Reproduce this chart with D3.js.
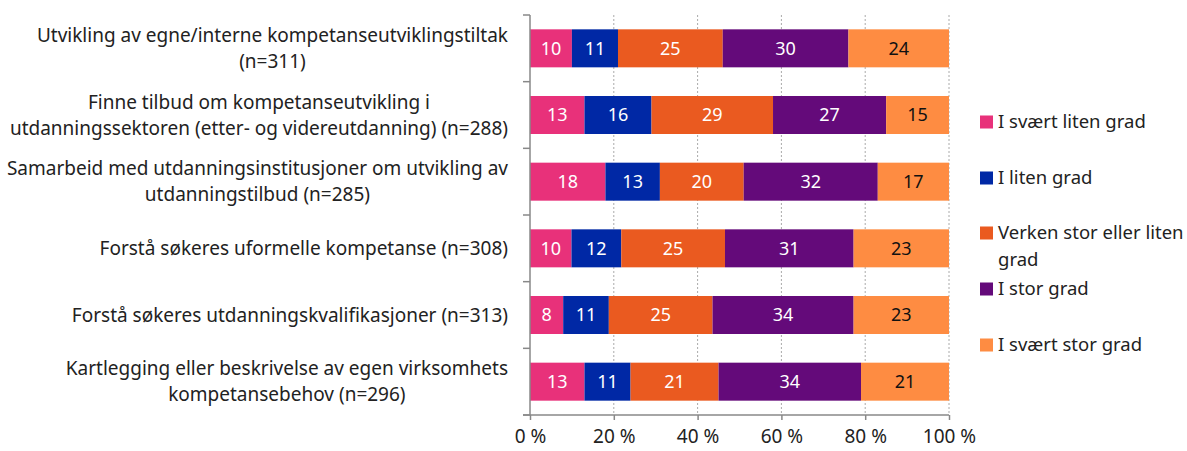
<!DOCTYPE html>
<html>
<head>
<meta charset="utf-8">
<script src="https://cdn.jsdelivr.net/npm/d3@7"></script>
<style>
  body { margin: 0; background: #fff; }
  svg { font-family: "Noto Sans", sans-serif; }
</style>
</head>
<body>
<div id="chart"></div>
<script>
// Categories (line breaks marked with |)
const categories = [
    'Utvikling av egne/interne kompetanseutviklingstiltak|(n=311)',
    'Finne tilbud om kompetanseutvikling i|utdanningssektoren (etter- og videreutdanning) (n=288)',
    'Samarbeid med utdanningsinstitusjoner om utvikling av|utdanningstilbud (n=285)',
    'Forstå søkeres uformelle kompetanse (n=308)',
    'Forstå søkeres utdanningskvalifikasjoner (n=313)',
    'Kartlegging eller beskrivelse av egen virksomhets|kompetansebehov (n=296)'
];

const seriesNames = ['I svært liten grad', 'I liten grad', 'Verken stor eller liten grad', 'I stor grad', 'I svært stor grad'];

// Values per category, one array per series
const svaertLiten = [10, 13, 18, 10, 8, 13];
const liten = [11, 16, 13, 12, 11, 11];
const verken = [25, 29, 20, 25, 25, 21];
const stor = [30, 27, 32, 31, 34, 34];
const svaertStor = [24, 15, 17, 23, 23, 21];

const tickLabels = ['0 %', '20 %', '40 %', '60 %', '80 %', '100 %'];

const colors = ['#e8317a', '#0028a5', '#ea5a20', '#640a7a', '#fe8c42'];
const labelColors = ['#fff', '#fff', '#fff', '#fff', '#111'];

const W = 1187, H = 451;
const margin = { top: 15, left: 530 };
const width = 419, height = 400;
const fontSize = 19;

const svg = d3.select('#chart').append('svg')
    .attr('width', W).attr('height', H);

const g = svg.append('g').attr('transform', `translate(${margin.left},${margin.top})`);

const x = d3.scaleLinear().domain([0, 1]).range([0, width]);
const y = d3.scaleBand().domain(d3.range(categories.length)).range([0, height]).paddingInner(0.43).paddingOuter(0.215);
const yTick = d3.scaleBand().domain(d3.range(categories.length)).range([0, height]);

// Gridlines
g.selectAll('.grid').data([0.2, 0.4, 0.6, 0.8, 1]).enter().append('line')
    .attr('x1', d => x(d)).attr('x2', d => x(d))
    .attr('y1', 0).attr('y2', height)
    .attr('stroke', '#aaa').attr('stroke-width', 1).attr('stroke-dasharray', '2,2');

// Build rows (100 % stacked, normalised per category)
const series = [svaertLiten, liten, verken, stor, svaertStor];
const rows = categories.map((c, i) => {
    const vals = series.map(s => s[i]);
    const total = d3.sum(vals);
    let acc = 0;
    return vals.map((v, k) => {
        const seg = { i, k, v, x0: acc / total, x1: (acc + v) / total };
        acc += v;
        return seg;
    });
});

const segs = rows.flat();

g.selectAll('.bar').data(segs).enter().append('rect')
    .attr('x', d => x(d.x0))
    .attr('width', d => x(d.x1) - x(d.x0))
    .attr('y', d => y(d.i))
    .attr('height', y.bandwidth())
    .attr('fill', d => colors[d.k]);

g.selectAll('.val').data(segs).enter().append('text')
    .attr('x', d => x((d.x0 + d.x1) / 2))
    .attr('y', d => y(d.i) + y.bandwidth() / 2)
    .attr('dy', '0.35em')
    .attr('text-anchor', 'middle')
    .attr('font-size', 18)
    .attr('fill', d => labelColors[d.k])
    .text(d => d.v);

// Axes
const axisColor = '#888';
const yAxis = g.append('g');
yAxis.append('line').attr('x1', 0).attr('x2', 0).attr('y1', 0).attr('y2', height)
    .attr('stroke', axisColor).attr('stroke-width', 1.5);
yAxis.selectAll('.yt').data(d3.range(categories.length + 1)).enter().append('line')
    .attr('x1', -7).attr('x2', 0)
    .attr('y1', d => d * yTick.step()).attr('y2', d => d * yTick.step())
    .attr('stroke', axisColor).attr('stroke-width', 1.5);

const xAxis = g.append('g').attr('transform', `translate(0,${height})`)
    .call(d3.axisBottom(x).tickValues([0, 0.2, 0.4, 0.6, 0.8, 1]).tickSize(5).tickFormat((d, i) => tickLabels[i]));
xAxis.select('.domain').attr('stroke', axisColor).attr('stroke-width', 1.5).attr('d', `M-7,0H${width}`);
xAxis.selectAll('.tick line').attr('stroke', axisColor).attr('stroke-width', 1.5);
xAxis.selectAll('.tick text').attr('font-size', fontSize).attr('fill', '#222').attr('dy', '1.05em')
    .attr('font-family', '"Noto Sans", sans-serif');

// Category labels: block right-aligned at the axis, lines centred within block
const lineH = 26;
const labelRight = 508;
categories.forEach((c, i) => {
    const lines = c.split('|');
    const cy = margin.top + yTick(i) + yTick.bandwidth() / 2;
    const t = svg.append('text')
        .attr('text-anchor', 'middle')
        .attr('font-size', fontSize)
        .attr('fill', '#222');
    const spans = lines.map((l, j) => t.append('tspan')
        .attr('y', cy + (j - (lines.length - 1) / 2) * lineH)
        .attr('dy', '0.35em')
        .text(l));
    const maxW = d3.max(spans, s => s.node().getComputedTextLength());
    spans.forEach(s => s.attr('x', labelRight - maxW / 2));
});

// Legend
const legendY = [122, 178, 233, 289, 345];
const legend = svg.append('g');
seriesNames.forEach((name, k) => {
    const item = legend.append('g').attr('transform', `translate(980,${legendY[k]})`);
    item.append('rect').attr('x', 0).attr('y', -6.5).attr('width', 13).attr('height', 13).attr('fill', colors[k]);
    const t = item.append('text').attr('x', 18).attr('font-size', 18.5).attr('fill', '#222');
    const parts = k === 2 ? ['Verken stor eller liten', 'grad'] : [name];
    parts.forEach((p, j) => {
        t.append('tspan').attr('x', 18).attr('y', j * 27).attr('dy', '0.35em').text(p);
    });
});
</script>
</body>
</html>
